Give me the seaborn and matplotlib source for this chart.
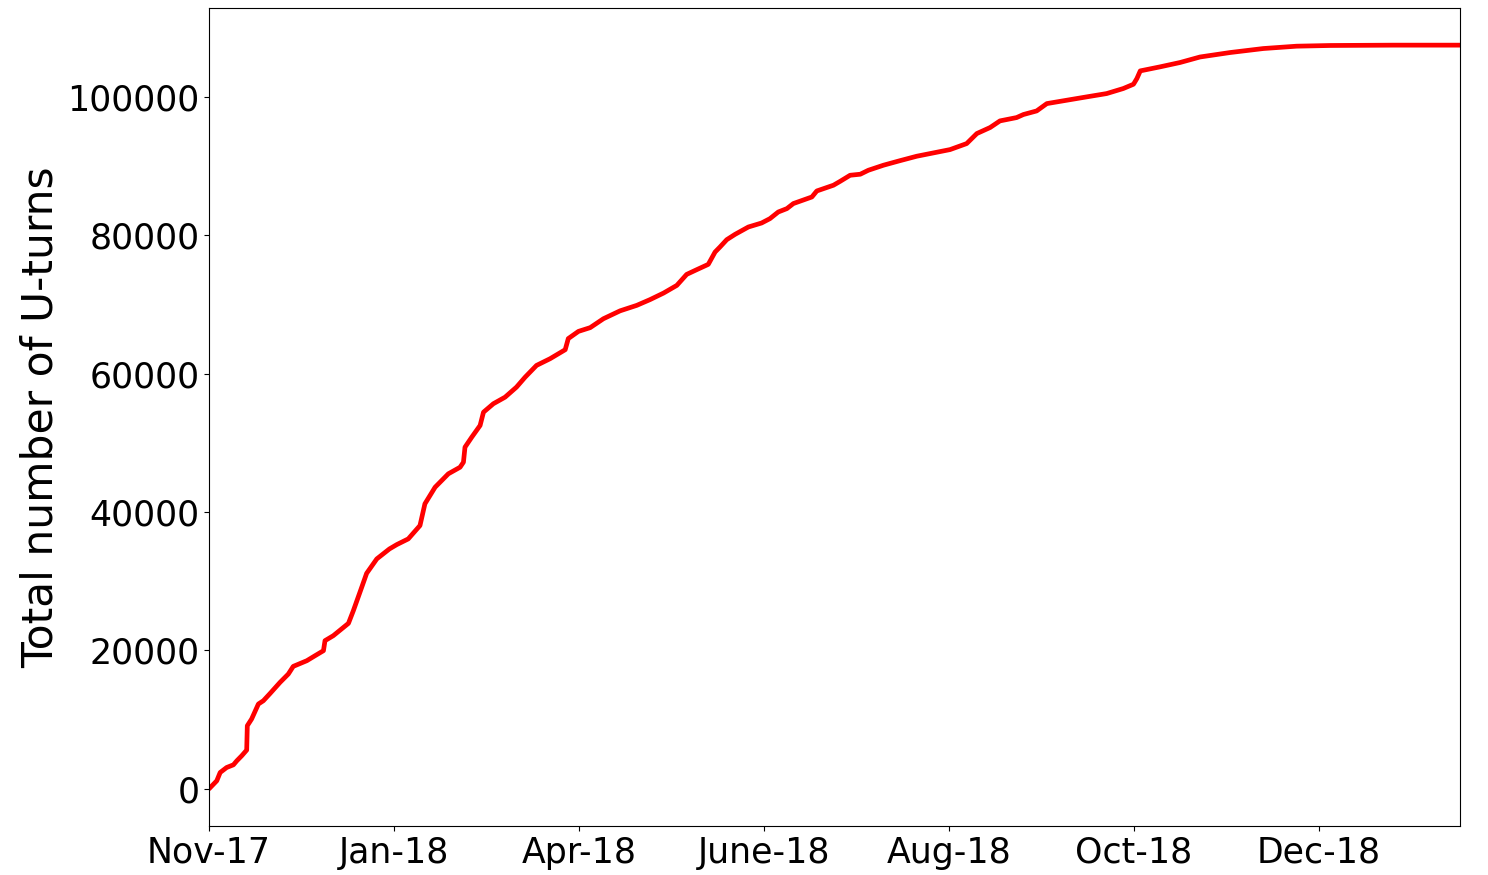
import matplotlib
matplotlib.use("Agg")
import matplotlib.pyplot as plt
import seaborn as sns

# day index since start of Nov-17 and cumulative U-turn count
days = [0, 2.5, 3.6, 5.7, 7.9, 9, 10.6, 12.2, 12.4, 13.8, 16, 17.6, 19.8, 23, 25.7,
        27.3, 31.7, 34.4, 37.1, 37.6, 40.3, 45.2, 46.8, 49.5, 51.1, 54.4, 58.5,
        60.9, 64.6, 68.4, 70, 73.3, 77.6, 81.4, 82.5, 83, 85.2, 87.9, 89, 92.2,
        96, 99.7, 102.5, 106.2, 110.6, 115.5, 116.5, 119.8, 123.6, 127.9, 133.3,
        138.7, 143, 147.4, 151.7, 154.9, 158.2, 161.9, 164.1, 165.7, 167.9, 170.6,
        174.9, 179.2, 181.9, 184.6, 187.4, 189.5, 195.5, 197.1, 202.5, 204.7,
        207.9, 211.2, 213.8, 218.7, 224, 229.5, 234.9, 240.3, 245.7, 249, 253.3,
        256.5, 261.9, 264.1, 268.4, 271.7, 278.2, 284.6, 291.1, 296.5, 299.8,
        300.9, 302, 308.4, 314.9, 321.4, 331.1, 341.9, 352.7, 363.6, 384.1, 405.7]
uturns = [0, 1160, 2360, 3080, 3470, 4050, 4780, 5600, 9120, 10090, 12260, 12730,
          13790, 15380, 16590, 17700, 18520, 19250, 19970, 21420, 22140, 23920,
          25760, 29130, 31150, 33240, 34680, 35310, 36130, 38060, 41200, 43600,
          45540, 46490, 47220, 49390, 50840, 52530, 54450, 55670, 56620, 58070,
          59510, 61210, 62180, 63480, 65090, 66130, 66670, 67960, 69100, 69890,
          70720, 71670, 72780, 74370, 75060, 75820, 77600, 78330, 79390, 80160,
          81220, 81800, 82430, 83390, 83880, 84610, 85560, 86430, 87260, 87830,
          88700, 88850, 89420, 90150, 90800, 91450, 91930, 92410, 93280, 94730,
          95600, 96560, 97040, 97480, 98000, 99060, 99550, 100030, 100510, 101240,
          101860, 102680, 103790, 104370, 105000, 105800, 106440, 107020, 107360,
          107460, 107510, 107510]

tick_pos = [0, 60, 120, 180, 240, 300, 360]
tick_labels = ["Nov-17", "Jan-18", "Apr-18", "June-18", "Aug-18", "Oct-18", "Dec-18"]

sns.set_style("ticks", {"axes.edgecolor": "black", "text.color": "black",
                        "xtick.color": "black", "ytick.color": "black",
                        "axes.labelcolor": "black"})
plt.rcParams["font.family"] = ["DejaVu Sans"]

fig, ax = plt.subplots(figsize=(14.88, 8.75), dpi=100)
fig.subplots_adjust(left=0.1405, right=0.9812, top=0.9909, bottom=0.056)

sns.lineplot(x=days, y=uturns, color="red", linewidth=3.4, ax=ax)

ax.set_xlim(0, days[-1])
ax.set_xticks(tick_pos)
ax.set_xticklabels(tick_labels)
ax.tick_params(labelsize=25)
ax.set_ylabel("Total number of U-turns", fontsize=30.5)

plt.savefig("out.png", dpi=100)
